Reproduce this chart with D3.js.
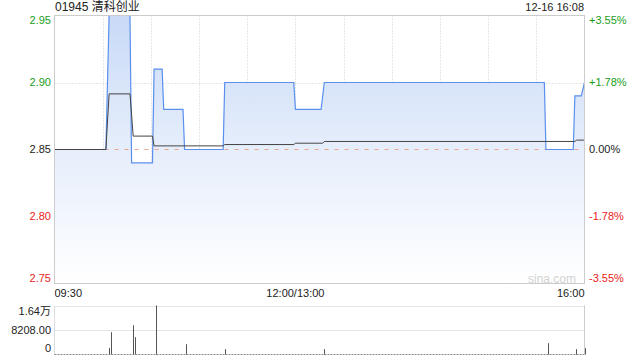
<!DOCTYPE html>
<html>
<head>
<meta charset="utf-8">
<script src="https://cdn.jsdelivr.net/npm/d3@7/dist/d3.min.js"></script>
<style>
  body { margin: 0; background: #fff; }
  text { font-family: "Liberation Sans", Arial, "Noto Sans CJK SC", sans-serif; }
</style>
</head>
<body>
<div id="chart"></div>
<script>
// Intraday minutes counted from 09:30 (12:00 and 13:00 share one slot).
var title = "01945 清科创业";
var stamp = "12-16 16:08";
var prevClose = 2.85;

// Price, as the points where the step line turns.
var priceMinutes = [0, 32, 34, 47, 48, 61, 62, 67, 68, 80, 81, 105, 106, 149, 150, 166, 168, 305, 306, 323, 324, 328, 330];
var prices = [2.85, 2.85, 2.95, 2.95, 2.84, 2.84, 2.91, 2.91, 2.88, 2.88, 2.85, 2.85, 2.90, 2.90, 2.88, 2.88, 2.90, 2.90, 2.85, 2.85, 2.89, 2.89, 2.90];

// Average price line.
var avgMinutes = [0, 32, 34, 47, 49, 61, 62, 105, 106, 149, 150, 167, 168, 324, 325, 330];
var avgPrices = [2.85, 2.85, 2.8915, 2.8915, 2.86, 2.86, 2.8527, 2.8527, 2.8537, 2.8537, 2.8547, 2.8547, 2.856, 2.856, 2.857, 2.857];

// Volume bars.
var volMinutes = [34, 35, 49, 50, 63, 82, 106, 168, 307, 325, 330];
var volumes = [2200, 7470, 9820, 5800, 16416, 3450, 1780, 1780, 3790, 1780, 2110];

var priceTicks = [2.95, 2.90, 2.85, 2.80, 2.75];
var pctTicks = ["+3.55%", "+1.78%", "0.00%", "-1.78%", "-3.55%"];
var volTickLabels = ["1.64万", "8208.00", "0"];
var timeLabels = ["09:30", "12:00/13:00", "16:00"];

var width = 640, height = 360;
var plotLeft = 54.5, plotRight = 584.5, plotTop = 15.5, plotBottom = 283.5;
var vTop = 305.5, vBottom = 354.5;
var green = "#1a9e1a", red = "#e8231c", ink = "#222";

var svg = d3.select('#chart').append('svg')
  .attr('width', width).attr('height', height);

var x = d3.scaleLinear().domain([0, 330]).range([plotLeft, plotRight]);
var y = d3.scaleLinear().domain([2.75, 2.95]).range([plotBottom, plotTop]);
var vy = d3.scaleLinear().domain([0, d3.max(volumes)]).range([vBottom, vTop]);

var priceData = priceMinutes.map(function(m, i) { return { m: m, v: prices[i] }; });
var avgData = avgMinutes.map(function(m, i) { return { m: m, v: avgPrices[i] }; });

// Gradient for the area under the price line.
var grad = svg.append('defs').append('linearGradient')
  .attr('id', 'fill').attr('gradientUnits', 'userSpaceOnUse')
  .attr('x1', 0).attr('y1', plotTop).attr('x2', 0).attr('y2', plotBottom);
grad.append('stop').attr('offset', '0%').attr('stop-color', '#c9daf7');
grad.append('stop').attr('offset', '50%').attr('stop-color', '#e6eefb');
grad.append('stop').attr('offset', '100%').attr('stop-color', '#ffffff');

// Grid: verticals every 30 minutes.
var vGrid = d3.range(30, 330, 30);
svg.selectAll('.vgrid').data(vGrid).enter().append('line')
  .attr('x1', function(d) { return Math.round(x(d)) + 0.5; })
  .attr('x2', function(d) { return Math.round(x(d)) + 0.5; })
  .attr('y1', plotTop).attr('y2', plotBottom)
  .attr('stroke', '#cfcfcf').attr('stroke-dasharray', '1,2');

svg.selectAll('.hgrid').data([2.90, 2.80]).enter().append('line')
  .attr('x1', plotLeft).attr('x2', plotRight)
  .attr('y1', function(d) { return Math.round(y(d)) + 0.5; })
  .attr('y2', function(d) { return Math.round(y(d)) + 0.5; })
  .attr('stroke', '#cfcfcf').attr('stroke-dasharray', '1,2');

// Area and price line.
svg.append('path').datum(priceData)
  .attr('fill', 'url(#fill)')
  .attr('d', d3.area().x(function(d) { return x(d.m); }).y0(plotBottom).y1(function(d) { return y(d.v); }));

// Previous close.
svg.append('line')
  .attr('x1', plotLeft).attr('x2', plotRight)
  .attr('y1', y(prevClose)).attr('y2', y(prevClose))
  .attr('stroke', '#e9a68c').attr('stroke-dasharray', '4,6');

svg.append('path').datum(priceData)
  .attr('fill', 'none').attr('stroke', '#5a8fee').attr('stroke-width', 1.2)
  .attr('d', d3.line().x(function(d) { return x(d.m); }).y(function(d) { return y(d.v); }));

svg.append('path').datum(avgData)
  .attr('fill', 'none').attr('stroke', '#444').attr('stroke-width', 1)
  .attr('d', d3.line().x(function(d) { return x(d.m); }).y(function(d) { return y(d.v); }));

// Frame.
svg.append('rect').attr('x', plotLeft).attr('y', plotTop)
  .attr('width', plotRight - plotLeft).attr('height', plotBottom - plotTop)
  .attr('fill', 'none').attr('stroke', '#cccccc');

// Price and percent labels.
var labelY = [20, y(2.90), y(2.85), y(2.80), 278];
function tickColor(i) { return i < 2 ? green : (i === 2 ? ink : red); }
svg.selectAll('.pl').data(priceTicks).enter().append('text')
  .attr('x', 51).attr('y', function(d, i) { return labelY[i]; }).attr('dy', '0.35em')
  .attr('text-anchor', 'end').attr('font-size', 11)
  .attr('fill', function(d, i) { return tickColor(i); })
  .text(function(d) { return d.toFixed(2); });

svg.selectAll('.pr').data(pctTicks).enter().append('text')
  .attr('x', 589).attr('y', function(d, i) { return labelY[i]; }).attr('dy', '0.35em')
  .attr('font-size', 11)
  .attr('fill', function(d, i) { return tickColor(i); })
  .text(function(d) { return d; });

svg.append('text').attr('x', 55).attr('y', 11).attr('font-size', 12).attr('fill', ink).text(title);
svg.append('text').attr('x', 584).attr('y', 11).attr('text-anchor', 'end')
  .attr('font-size', 11).attr('fill', ink).text(stamp);

svg.append('text').attr('x', 552).attr('y', 279).attr('dy', '0.35em')
  .attr('text-anchor', 'middle').attr('font-size', 12).attr('fill', '#d2d2d2').text('sina.com');

// Time labels.
var timePos = [x(0), x(150), x(330)];
var timeAnchor = ['start', 'middle', 'end'];
svg.selectAll('.tl').data(timeLabels).enter().append('text')
  .attr('x', function(d, i) { return timePos[i]; }).attr('y', 293).attr('dy', '0.35em')
  .attr('text-anchor', function(d, i) { return timeAnchor[i]; })
  .attr('font-size', 11).attr('fill', ink)
  .text(function(d) { return d; });

// Volume panel.
svg.selectAll('.vg').data([d3.max(volumes), d3.max(volumes) / 2]).enter().append('line')
  .attr('x1', plotLeft).attr('x2', plotRight)
  .attr('y1', function(d) { return Math.round(vy(d)) + 0.5; })
  .attr('y2', function(d) { return Math.round(vy(d)) + 0.5; })
  .attr('stroke', '#c8c8c8').attr('stroke-dasharray', '1,1');

svg.append('line').attr('x1', plotLeft).attr('x2', plotLeft).attr('y1', vTop).attr('y2', vBottom).attr('stroke', '#dddddd');
svg.append('line').attr('x1', plotRight).attr('x2', plotRight).attr('y1', vTop).attr('y2', vBottom).attr('stroke', '#cccccc');
svg.append('line').attr('x1', plotLeft).attr('x2', plotRight).attr('y1', vBottom).attr('y2', vBottom)
  .attr('stroke', '#888').attr('stroke-dasharray', '2,1');

svg.selectAll('.vb').data(volMinutes).enter().append('line')
  .attr('x1', function(d) { return Math.round(x(d)) + 0.5; })
  .attr('x2', function(d) { return Math.round(x(d)) + 0.5; })
  .attr('y1', vBottom)
  .attr('y2', function(d, i) { return vy(volumes[i]); })
  .attr('stroke', '#555');

var volLabelY = [311.5, vy(d3.max(volumes) / 2), 348];
svg.selectAll('.vl').data(volTickLabels).enter().append('text')
  .attr('x', 51).attr('y', function(d, i) { return volLabelY[i]; }).attr('dy', '0.35em')
  .attr('text-anchor', 'end').attr('font-size', 11).attr('fill', ink)
  .text(function(d) { return d; });
</script>
</body>
</html>
